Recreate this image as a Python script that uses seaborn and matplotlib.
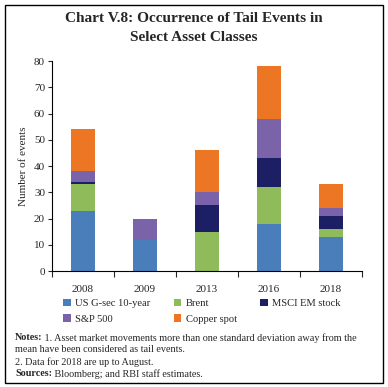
import numpy as np
import pandas as pd
import matplotlib
matplotlib.use("Agg")
import matplotlib.pyplot as plt
import seaborn as sns
from matplotlib.patches import Rectangle, Patch

years = ["2008", "2009", "2013", "2016", "2018"]
us_gsec = [23, 12, 0, 18, 13]
brent = [10, 0, 15, 14, 3]
msci_em = [1, 0, 10, 11, 5]
sp500 = [4, 8, 5, 15, 3]
copper = [16, 0, 16, 20, 9]

series = ["US G-sec 10-year", "Brent", "MSCI EM stock", "S&P 500", "Copper spot"]
values = [us_gsec, brent, msci_em, sp500, copper]
colors = ["#4a7ebb", "#8fbb5b", "#1c1f63", "#7a63a8", "#ed7624"]

sns.set_style("ticks")
plt.rcParams["font.family"] = ["Liberation Serif", "DejaVu Serif"]

fig = plt.figure(figsize=(3.88, 3.87), dpi=100)
ax = fig.add_axes([0.134, 0.2997, 0.799, 0.5423])

bottom = np.zeros(len(years))
for name, vals, col in zip(series, values, colors):
    df = pd.DataFrame({"year": years, "n": vals})
    sns.barplot(data=df, x="year", y="n", order=years, color=col,
                width=0.4, bottom=bottom, ax=ax, saturation=1,
                edgecolor="none", linewidth=0)
    bottom = bottom + np.array(vals)

ax.set_xlim(-0.5, 4.5)
ax.set_ylim(0, 80)
ax.set_yticks(range(0, 81, 10))
ax.set_xlabel("")
ax.set_ylabel("Number of events", fontsize=8, labelpad=4)
ax.tick_params(axis="y", labelsize=8, length=3, width=0.8, pad=2)
ax.tick_params(axis="x", which="major", labelsize=8, length=0, pad=10)
ax.set_xticks(np.arange(-0.5, 4.6, 1), minor=True)
ax.tick_params(axis="x", which="minor", length=4, width=0.8)
for s in ["top", "right"]:
    ax.spines[s].set_visible(False)
for s in ["left", "bottom"]:
    ax.spines[s].set_linewidth(0.8)
    ax.spines[s].set_color("black")

# legend fills column by column, so reorder to read row-wise like the original
handles = [Patch(facecolor=c, edgecolor="none") for c in colors]
order = [0, 3, 1, 4, 2]
fig.legend([handles[i] for i in order], [series[i] for i in order],
           loc="upper left", bbox_to_anchor=(0.163, 0.228),
           ncol=3, frameon=False, fontsize=7.6, handlelength=0.7,
           handleheight=0.7, handletextpad=0.45, columnspacing=2.2,
           labelspacing=0.6, borderaxespad=0, borderpad=0)

fig.text(0.5, 0.968, "Chart V.8: Occurrence of Tail Events in\nSelect Asset Classes",
         ha="center", va="top", fontsize=11, fontweight="bold", linespacing=1.55)

note_x = 15 / 388
fs = 7.3
t1 = fig.text(note_x, 1 - 338 / 387, "Notes:", fontsize=fs, fontweight="bold", va="center")
ax.annotate(" 1. Asset market movements more than one standard deviation away from the",
            xy=(1, 0.5), xycoords=t1, va="center", fontsize=fs, annotation_clip=False)
fig.text(note_x, 1 - 350 / 387, "mean have been considered as tail events.", fontsize=fs, va="center")
fig.text(note_x, 1 - 362 / 387, "2. Data for 2018 are up to August.", fontsize=fs, va="center")
t2 = fig.text(note_x, 1 - 374 / 387, "Sources:", fontsize=fs, fontweight="bold", va="center")
ax.annotate(" Bloomberg; and RBI staff estimates.", xy=(1, 0.5), xycoords=t2,
            va="center", fontsize=fs, annotation_clip=False)

fig.patches.append(Rectangle((5 / 388, 4 / 387), 378 / 388, 378 / 387,
                             transform=fig.transFigure, fill=False,
                             edgecolor="black", linewidth=1))

fig.savefig("out.png", dpi=100)
